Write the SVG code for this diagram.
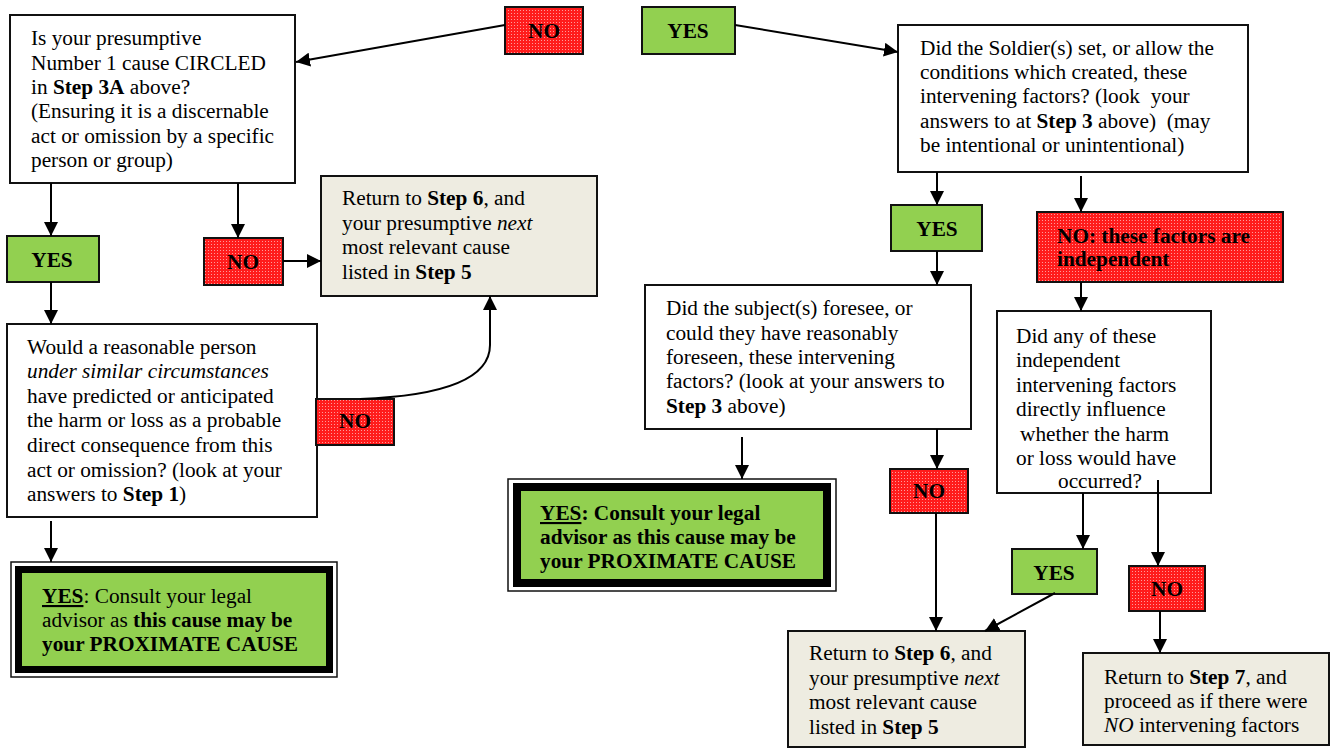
<svg xmlns="http://www.w3.org/2000/svg" width="1331" height="749" viewBox="0 0 1331 749">
<defs>
<pattern id="dots" width="3" height="3" patternUnits="userSpaceOnUse"><rect width="3" height="3" fill="#ff1c1c"/><rect x="1" y="1" width="1" height="1" fill="#ff9a9a"/></pattern>
<marker id="ah" markerUnits="userSpaceOnUse" markerWidth="14" markerHeight="14" viewBox="0 0 14 14" refX="14" refY="7" orient="auto"><path d="M0,0 L14,7 L0,14 z" fill="#000"/></marker>
<style>
text{font-family:"Liberation Serif","Times New Roman",serif;font-size:21.3px;fill:#000;white-space:pre}
.b{font-weight:bold}
.i{font-style:italic}
.c{text-anchor:middle}
.box{fill:#fff;stroke:#111;stroke-width:2}
.tan{fill:#eeece1;stroke:#111;stroke-width:2}
.red{fill:url(#dots);stroke:#111;stroke-width:2}
.grn{fill:#92d050;stroke:#111;stroke-width:2}
.conn path{fill:none;stroke:#000;stroke-width:2;marker-end:url(#ah)}
</style>
</defs>
<rect width="1331" height="749" fill="#fff"/>

<g id="boxA">
<rect class="box" x="10" y="15" width="285" height="168"/>
<text x="31" y="45">Is your presumptive</text>
<text x="31" y="70">Number 1 cause CIRCLED</text>
<text x="31" y="94">in <tspan class="b">Step 3A</tspan> above?</text>
<text x="31" y="118">(Ensuring it is a discernable</text>
<text x="31" y="143">act or omission by a specific</text>
<text x="31" y="167">person or group)</text>
</g>

<g id="noTop">
<rect class="red" x="505" y="7" width="78" height="47"/>
<text class="b c" x="544" y="38">NO</text>
</g>

<g id="yesTop">
<rect class="grn" x="642" y="7" width="93" height="47"/>
<text class="b c" x="688" y="38">YES</text>
</g>

<g id="boxB">
<rect class="box" x="898" y="25" width="350" height="147"/>
<text x="920" y="55">Did the Soldier(s) set, or allow the</text>
<text x="920" y="79">conditions which created, these</text>
<text x="920" y="103">intervening factors? (look  your</text>
<text x="920" y="128">answers to at <tspan class="b">Step 3</tspan> above)  (may</text>
<text x="920" y="152">be intentional or unintentional)</text>
</g>

<g id="yesL">
<rect class="grn" x="7" y="236" width="92" height="46"/>
<text class="b c" x="52" y="267">YES</text>
</g>

<g id="noL">
<rect class="red" x="204" y="238" width="79" height="47"/>
<text class="b c" x="243" y="269">NO</text>
</g>

<g id="boxG">
<rect class="tan" x="321" y="176" width="276" height="120"/>
<text x="342" y="205">Return to <tspan class="b">Step 6</tspan>, and</text>
<text x="342" y="230">your presumptive <tspan class="i">next</tspan></text>
<text x="342" y="254">most relevant cause</text>
<text x="342" y="279">listed in <tspan class="b">Step 5</tspan></text>
</g>

<g id="boxH">
<rect class="box" x="7" y="324" width="310" height="193"/>
<text x="27" y="354">Would a reasonable person</text>
<text x="27" y="378" class="i">under similar circumstances</text>
<text x="27" y="403">have predicted or anticipated</text>
<text x="27" y="427">the harm or loss as a probable</text>
<text x="27" y="452">direct consequence from this</text>
<text x="27" y="477">act or omission? (look at your</text>
<text x="27" y="501">answers to <tspan class="b">Step 1</tspan>)</text>
</g>

<g id="noM">
<rect class="red" x="316" y="399" width="78" height="46"/>
<text class="b c" x="355" y="428">NO</text>
</g>

<g id="yesL2">
<rect x="11" y="562" width="326" height="115" fill="#fff" stroke="#111" stroke-width="1.5"/>
<rect x="15" y="566" width="318" height="107" fill="#000"/>
<rect x="22" y="573" width="304" height="93" fill="#92d050"/>
<text x="42" y="603"><tspan class="b" text-decoration="underline">YES</tspan>: Consult your legal</text>
<text x="42" y="627">advisor as <tspan class="b">this cause may be</tspan></text>
<text x="42" y="651" class="b">your PROXIMATE CAUSE</text>
</g>

<g id="yes2">
<rect class="grn" x="891" y="205" width="91" height="46"/>
<text class="b c" x="937" y="236">YES</text>
</g>

<g id="no2">
<rect class="red" x="1037" y="212" width="246" height="70"/>
<text class="b" x="1057" y="243">NO: these factors are</text>
<text class="b" x="1057" y="266">independent</text>
</g>

<g id="boxC">
<rect class="box" x="645" y="285" width="326" height="144"/>
<text x="666" y="315">Did the subject(s) foresee, or</text>
<text x="666" y="340">could they have reasonably</text>
<text x="666" y="364">foreseen, these intervening</text>
<text x="666" y="388">factors? (look at your answers to</text>
<text x="666" y="413"><tspan class="b">Step 3</tspan> above)</text>
</g>

<g id="boxE">
<rect class="box" x="997" y="311" width="214" height="182"/>
<text x="1016" y="343">Did any of these</text>
<text x="1016" y="367">independent</text>
<text x="1016" y="392">intervening factors</text>
<text x="1016" y="416">directly influence</text>
<text x="1020" y="441">whether the harm</text>
<text x="1016" y="465">or loss would have</text>
<text x="1058" y="488">occurred?</text>
</g>

<g id="yes3">
<rect x="508" y="479" width="328" height="112" fill="#fff" stroke="#111" stroke-width="1.5"/>
<rect x="513" y="483" width="318" height="104" fill="#000"/>
<rect x="521" y="491" width="302" height="88" fill="#92d050"/>
<text x="540" y="520" class="b"><tspan text-decoration="underline">YES</tspan>: Consult your legal</text>
<text x="540" y="544" class="b">advisor as this cause may be</text>
<text x="540" y="568" class="b">your PROXIMATE CAUSE</text>
</g>

<g id="no3">
<rect class="red" x="890" y="469" width="78" height="44"/>
<text class="b c" x="929" y="498">NO</text>
</g>

<g id="yes4">
<rect class="grn" x="1012" y="549" width="85" height="45"/>
<text class="b c" x="1054" y="580">YES</text>
</g>

<g id="no4">
<rect class="red" x="1129" y="566" width="76" height="45"/>
<text class="b c" x="1167" y="596">NO</text>
</g>

<g id="boxD">
<rect class="tan" x="788" y="631" width="237" height="116"/>
<text x="809" y="660">Return to <tspan class="b">Step 6</tspan>, and</text>
<text x="809" y="685">your presumptive <tspan class="i">next</tspan></text>
<text x="809" y="709">most relevant cause</text>
<text x="809" y="734">listed in <tspan class="b">Step 5</tspan></text>
</g>

<g id="boxF">
<rect class="tan" x="1083" y="653" width="246" height="92"/>
<text x="1104" y="684">Return to <tspan class="b">Step 7</tspan>, and</text>
<text x="1104" y="708">proceed as if there were</text>
<text x="1104" y="732"><tspan class="i">NO</tspan> intervening factors</text>
</g>

<g id="connectors" class="conn">
<path d="M505,25 L296,62"/>
<path d="M735,25 L898,52"/>
<path d="M51,183 L51,236"/>
<path d="M238,183 L238,238"/>
<path d="M283,261 L321,261"/>
<path d="M51,282 L51,324"/>
<path d="M360,399 C440,396 490,380 490,345 L490,296"/>
<path d="M51,521 L51,562"/>
<path d="M937,172 L937,205"/>
<path d="M1081,176 L1081,212"/>
<path d="M937,251 L937,285"/>
<path d="M1081,282 L1081,311"/>
<path d="M742,437 L742,479"/>
<path d="M937,429 L937,469"/>
<path d="M936,513 L936,631"/>
<path d="M1083,493 L1083,549"/>
<path d="M1158,480 L1158,566"/>
<path d="M1055,593 L985,631"/>
<path d="M1160,611 L1160,653"/>
</g>
</svg>
